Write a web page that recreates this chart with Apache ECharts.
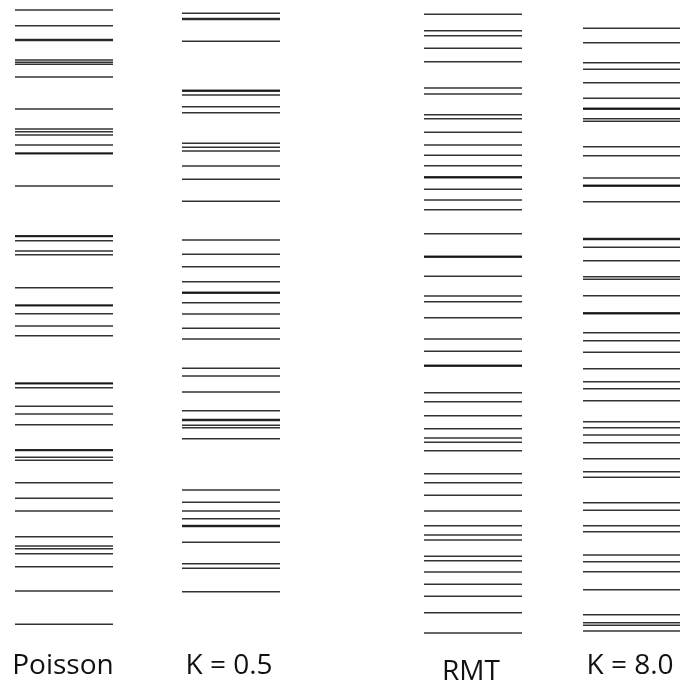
<!DOCTYPE html>
<html>
<head>
<meta charset="utf-8">
<script src="https://cdn.jsdelivr.net/npm/echarts@6/dist/echarts.min.js"></script>
<style>
  html, body { margin: 0; padding: 0; background: #fff; }
  #chart { width: 680px; height: 682px; }
</style>
</head>
<body>
<div id="chart"></div>
<script>
// spectra, level positions (top = 0), near-duplicates make the thick lines
var names = ['Poisson', 'K = 0.5', 'RMT', 'K = 8.0'];
var poisson = [10, 25.7, 39.5, 40.5, 60, 62.3, 64.3, 77, 109, 129, 131.7, 135, 145, 153, 153.8,
	186, 235.7, 236.5, 240.7, 251, 254.7, 287.7, 305, 305.8, 313.7, 326, 335.7, 383, 383.7,
	387.7, 406.3, 414, 424.7, 449.7, 450.5, 457.3, 460.3, 482.7, 498.3, 511, 536.7, 546,
	548.7, 553.7, 566.7, 591, 624.3];
var k05 = [13.3, 18.5, 19.5, 41.3, 90.2, 91.2, 95, 106.7, 112.7, 143.3, 147.3, 151, 166, 179.3,
	201.3, 240, 254.3, 266.7, 281.7, 292.3, 293.1, 302.7, 314, 328.3, 339, 368.3, 376, 392,
	410.7, 419.5, 420.4, 425.3, 427.7, 438.7, 490, 502.3, 511, 518.7, 525.6, 526.4, 542.3,
	563.7, 568.3, 591.7];
var rmt = [14.3, 30.7, 35.7, 48.3, 61.7, 88, 94, 114.7, 118.7, 132.3, 145, 155.3, 165.7, 176.9,
	177.7, 189.3, 200, 209.7, 233.7, 256.3, 257.1, 276.3, 296, 301.7, 317.7, 339, 351.3, 365.3,
	366.1, 392.7, 401.7, 415.7, 428.7, 438, 442.3, 450.7, 473.7, 482.7, 495.3, 511, 525.7, 535,
	540, 556.3, 560.7, 572, 584.3, 596.3, 612.7, 633];
var k80 = [28.3, 42.7, 62.7, 69.3, 82.7, 98.3, 108.3, 109.1, 118.7, 121.3, 146.7, 155.7, 178,
	185.3, 186.1, 201.7, 238.6, 239.4, 247.3, 260.7, 276.7, 279.3, 295.7, 312.9, 313.7, 332.7,
	340.7, 352.3, 368.7, 381.7, 388.7, 400.7, 421.7, 427.7, 435, 442.7, 458.7, 471.7, 477.3,
	502.7, 510.3, 525.7, 531.7, 555, 561.7, 571.7, 589.7, 614.7, 622.7, 625.3, 631];
var spectra = [poisson, k05, rmt, k80];

var colX = [64, 231, 473, 632];
var labelY = [666, 666, 672, 666];

var myChart = echarts.init(document.getElementById('chart'));
var series = [];
for (var i = 0; i < spectra.length; i++) {
	series.push({
		name: names[i],
		type: 'scatter',
		symbol: 'rect',
		symbolSize: [98, 1.6],
		silent: true,
		itemStyle: { color: '#000' },
		data: spectra[i].map(function (v) { return [colX[i], v]; })
	});
}
var graphics = [];
for (var j = 0; j < names.length; j++) {
	graphics.push({
		type: 'text',
		x: colX[j] - (j == 0 ? 1 : 2),
		y: labelY[j],
		style: {
			text: names[j],
			fill: '#111',
			font: '28px "Open Sans", "Noto Sans", sans-serif',
			textAlign: 'center',
			textVerticalAlign: 'middle'
		}
	});
}
myChart.setOption({
	animation: false,
	backgroundColor: '#fff',
	grid: { left: 0, right: 0, top: 0, bottom: 0 },
	xAxis: { type: 'value', min: 0, max: 680, show: false },
	yAxis: { type: 'value', min: 0, max: 682, inverse: true, show: false },
	series: series,
	graphic: graphics
});
</script>
</body>
</html>
